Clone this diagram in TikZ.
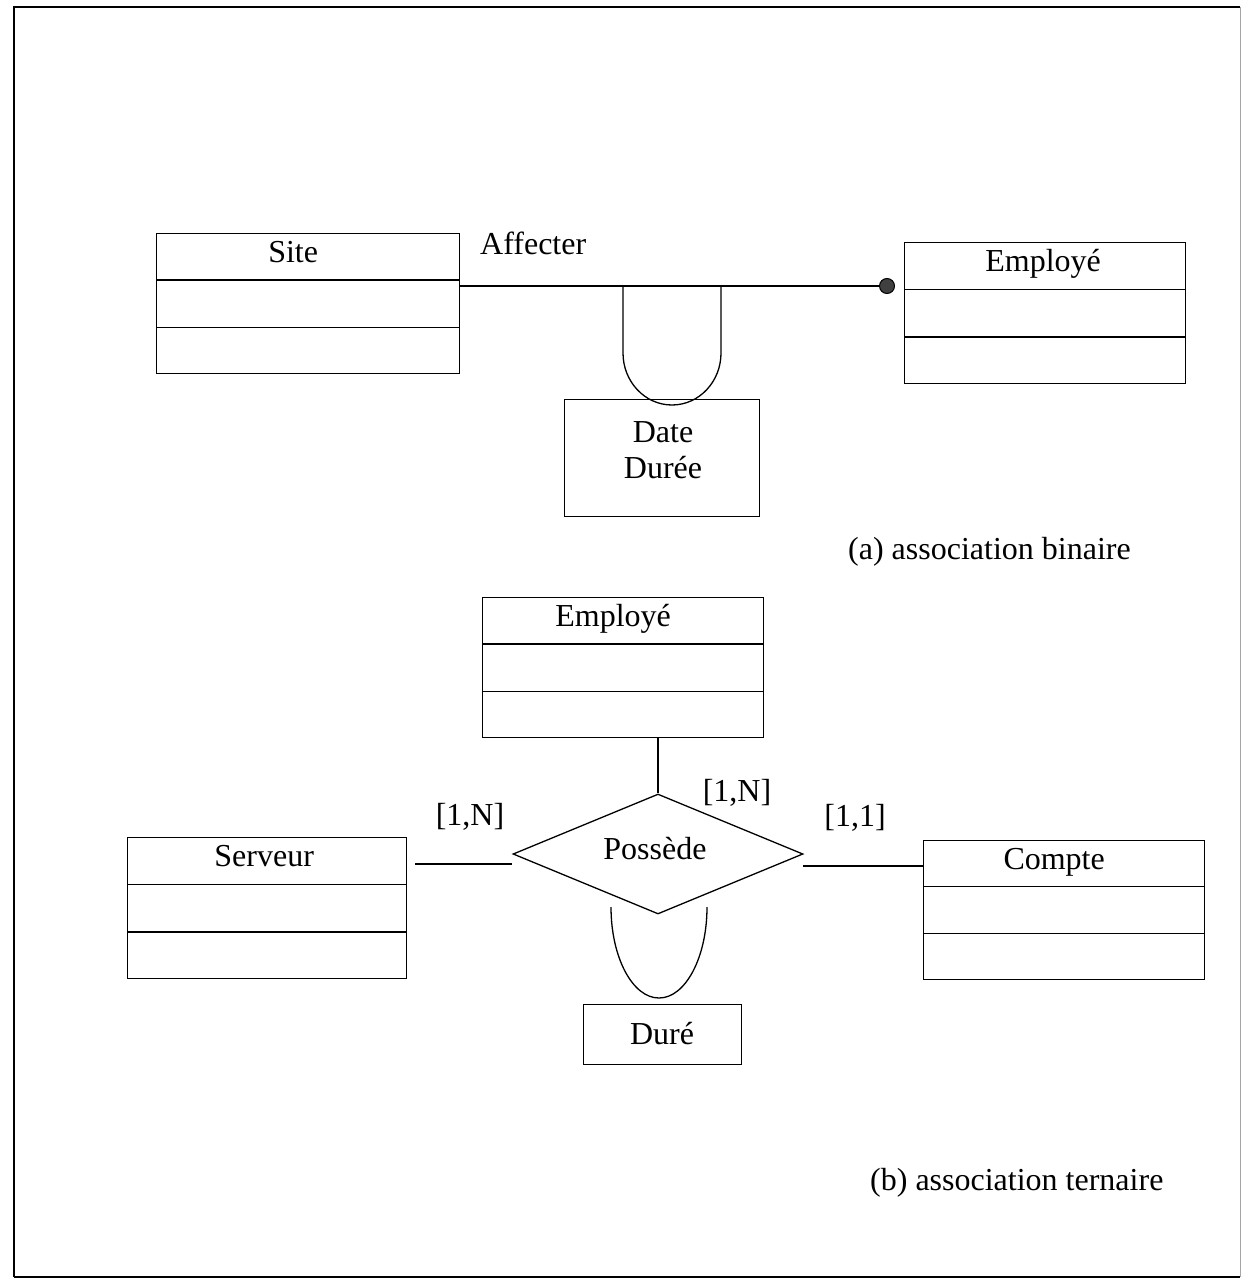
\documentclass[tikz,border=0pt]{standalone}
\usepackage{fontspec}
\setmainfont{Liberation Serif}
\usetikzlibrary{shapes.geometric,calc}

\tikzset{
  lbl/.style={font=\fontsize{32}{36}\selectfont, inner sep=0pt},
  thin line/.style={line width=1.3pt, black},
  boxframe/.style={draw, thin line, rectangle, inner sep=0pt, anchor=north west},
}

% UML-style class box: name, x, y (top left), width, height, title, title x shift
\newcommand\umlclass[7]{%
  \node[boxframe, minimum width=#4pt, minimum height=#5pt] (#1) at (#2,#3) {};
  \draw[thin line] ($(#1.north west)!1/3!(#1.south west)$) -- ($(#1.north east)!1/3!(#1.south east)$);
  \draw[thin line] ($(#1.north west)!2/3!(#1.south west)$) -- ($(#1.north east)!2/3!(#1.south east)$);
  \node[lbl, anchor=base] (#1-title) at ($(#1.north)+(#7,29)$) {#6};
}

\begin{document}
\begin{tikzpicture}[x=1pt, y=-1pt]
\useasboundingbox (0,0) rectangle (1243,1279);

% page frame
\draw[line width=1.2pt] (14,1277) -- (14,7) -- (1240,7);
\draw[line width=1.2pt] (14,1277) -- (1240,1277);
\draw[line width=0.8pt, black!35] (1240,7) -- (1240,1277);

% ---------- (a) binary association ----------
\umlclass{site}{156}{233}{303}{140}{Site}{-15}
\umlclass{emp}{904}{242}{281}{141}{Employé}{-2}

\node[circle, draw, fill=black!75, inner sep=0pt, minimum size=15pt, line width=1pt] (dot) at (887,286) {};
\draw[thin line] (dot.west -| site.east) -- (dot.west);
\node[lbl, anchor=west] (affecter) at (480,243) {Affecter};

% attribute loop and box
\node[boxframe, minimum width=195pt, minimum height=117pt] (attrA) at (564,399) {};
\draw[thin line] (623,285) -- (623,353)
  arc[start angle=180, end angle=360, x radius=49pt, y radius=52pt] -- (721,285);
\node[lbl, align=center] (attrAtext) at (663,450) {Date\\Durée};

\node[lbl, anchor=west] (capA) at (848,552) {(a) association binaire};

% ---------- (b) ternary association ----------
\umlclass{emp2}{482}{597}{281}{140}{Employé}{-10}
\umlclass{serv}{127}{837}{279}{141}{Serveur}{-3}
\umlclass{compte}{923}{840}{281}{139}{Compte}{-10}

\node[diamond, draw, thin line, inner sep=0pt, minimum width=290pt, minimum height=120pt] (poss) at (658,854) {};
\node[lbl] (posstext) at (655,849) {Possède};

\draw[thin line] (poss.north |- emp2.south) -- (poss.north);
\coordinate (servEnd) at (415,864);
\draw[thin line] (servEnd) -- (servEnd -| poss.west);
\coordinate (compEnd) at (803,866);
\draw[thin line] (compEnd) -- (compEnd -| compte.west);

\node[lbl] (cardS) at (470,817) {[1,N]};
\node[lbl] (cardE) at (737,793) {[1,N]};
\node[lbl] (cardC) at (855,818) {[1,1]};

% attribute loop and box
\draw[thin line] (611,907)
  arc[start angle=180, end angle=360, x radius=48pt, y radius=91pt];
\node[boxframe, minimum width=158pt, minimum height=60pt] (attrB) at (583,1004) {};
\node[lbl] (attrBtext) at (662,1034) {Duré};

\node[lbl, anchor=west] (capB) at (870,1183) {(b) association ternaire};
\end{tikzpicture}
\end{document}
